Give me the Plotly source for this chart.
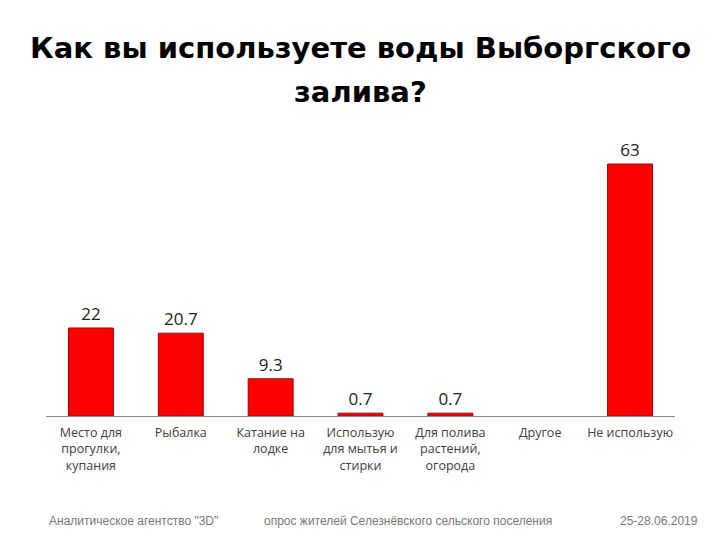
import plotly.graph_objects as go

categories = ["Место для<br>прогулки,<br>купания", "Рыбалка", "Катание на<br>лодке",
              "Использую<br>для мытья и<br>стирки", "Для полива<br>растений,<br>огорода",
              "Другое", "Не использую"]
values = [22, 20.7, 9.3, 0.7, 0.7, None, 63]
labels = ["22", "20.7", "9.3", "0.7", "0.7", "", "63"]
title_lines = ["Как вы используете воды Выборгского", "залива?"]
footer = ['Аналитическое агентство "3D"', "опрос жителей Селезнёвского сельского поселения", "25-28.06.2019"]

W, H = 720, 540
L, R, T, B = 38, 53, 132, 132
OFF = 8  # page body margin

fig = go.Figure(go.Bar(
    x=categories, y=values, text=labels, textposition="outside",
    textfont=dict(family="Open Sans, sans-serif", size=17, color="#222222"),
    marker=dict(color="#ff0000", line=dict(color="#a00000", width=1)),
    cliponaxis=False,
))

fig.update_layout(
    width=W, height=H,
    paper_bgcolor="white", plot_bgcolor="white",
    margin=dict(l=L, r=R, t=T, b=B),
    bargap=0.5,
    showlegend=False,
    xaxis=dict(showline=True, linecolor="#888888", linewidth=1, ticks="",
               tickfont=dict(family="Open Sans, sans-serif", size=12.5, color="#404040"),
               ticklabelstandoff=5, fixedrange=True),
    yaxis=dict(range=[0, 69], visible=False, showgrid=False, zeroline=False),
)

pw = W - L - R
ph = H - T - B


def pos(px, py):
    # reference page pixel -> paper coordinates
    fx = px - OFF
    fy = py - OFF
    return (fx - L) / pw, (H - B - fy) / ph


title_font = dict(family="DejaVu Sans, sans-serif", size=29, color="#000000", weight="bold")
for text, ty in zip(title_lines, [48, 92]):
    x, y = pos(361, ty)
    fig.add_annotation(text=text, x=x, y=y, xref="paper", yref="paper",
                       xanchor="center", yanchor="middle", showarrow=False, font=title_font)

footer_font = dict(family="Liberation Sans, sans-serif", size=12, color="#777777")
for text, fx, anchor in zip(footer, [47, 262, 700], ["left", "left", "right"]):
    x, y = pos(fx, 521)
    fig.add_annotation(text=text, x=x, y=y, xref="paper", yref="paper",
                       xanchor=anchor, yanchor="middle", showarrow=False, font=footer_font)

fig.write_html("out.html")
